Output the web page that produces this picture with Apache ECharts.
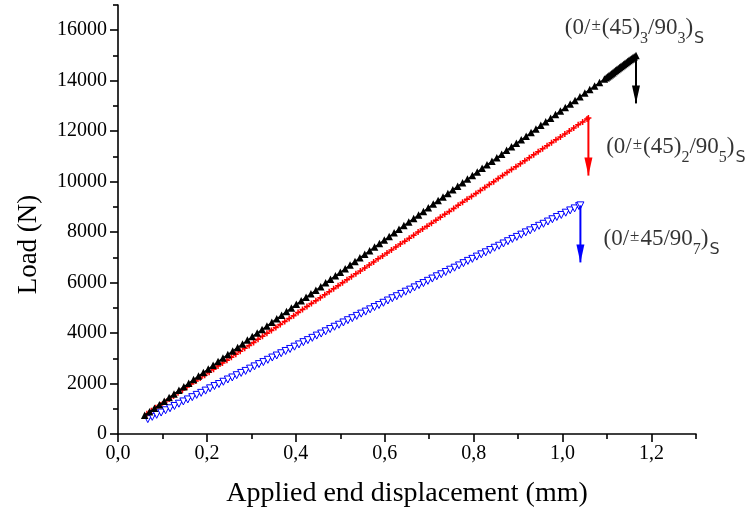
<!DOCTYPE html>
<html><head><meta charset="utf-8">
<script src="https://cdn.jsdelivr.net/npm/echarts@6/dist/echarts.min.js"></script>
<style>html,body{margin:0;padding:0;background:#fff}#c{width:751px;height:516px}</style>
</head><body><div id="c"></div>
<script>
// ---- data ----
var blackX = [0.060,0.071,0.082,0.093,0.104,0.115,0.126,0.137,0.148,0.159,0.170,0.181,0.192,0.203,0.214,0.225,0.236,0.247,0.258,0.269,0.280,0.291,0.302,0.313,0.324,0.335,0.346,0.357,0.368,0.379,0.390,0.401,0.412,0.423,0.434,0.445,0.456,0.467,0.478,0.489,0.500,0.511,0.522,0.533,0.544,0.555,0.566,0.577,0.588,0.599,0.610,0.621,0.632,0.643,0.654,0.665,0.676,0.687,0.698,0.709,0.720,0.731,0.742,0.753,0.764,0.775,0.786,0.797,0.808,0.819,0.830,0.841,0.852,0.863,0.874,0.885,0.896,0.907,0.918,0.929,0.940,0.951,0.962,0.973,0.984,0.995,1.006,1.017,1.028,1.039,1.050,1.061,1.072,1.083,1.094,1.098,1.101,1.104,1.107,1.110,1.113,1.116,1.119,1.122,1.125,1.128,1.131,1.134,1.137,1.140,1.143,1.146,1.149,1.152,1.155,1.158,1.161,1.165];
var blackY = [740,880,1020,1160,1300,1450,1590,1730,1870,2010,2160,2300,2440,2580,2720,2870,3010,3150,3290,3430,3570,3720,3860,4000,4140,4280,4430,4570,4710,4850,4990,5140,5280,5420,5560,5700,5840,5990,6130,6270,6410,6550,6700,6840,6980,7120,7260,7410,7550,7690,7830,7970,8110,8260,8400,8540,8680,8820,8970,9110,9250,9390,9530,9680,9820,9960,10100,10240,10380,10530,10670,10810,10950,11090,11240,11380,11520,11660,11800,11950,12090,12230,12370,12510,12660,12800,12940,13080,13220,13360,13510,13650,13790,13930,14070,14120,14160,14200,14240,14280,14320,14360,14400,14440,14480,14520,14560,14600,14640,14680,14720,14760,14800,14840,14870,14910,14950,15000];
var redX = [0.065,0.075,0.085,0.095,0.105,0.115,0.125,0.135,0.145,0.155,0.165,0.175,0.185,0.195,0.205,0.215,0.225,0.235,0.245,0.255,0.265,0.275,0.285,0.295,0.305,0.315,0.325,0.335,0.345,0.355,0.365,0.375,0.385,0.395,0.405,0.415,0.425,0.435,0.445,0.455,0.465,0.475,0.485,0.495,0.505,0.515,0.525,0.535,0.545,0.555,0.565,0.575,0.585,0.595,0.605,0.615,0.625,0.635,0.645,0.655,0.665,0.675,0.685,0.695,0.705,0.715,0.725,0.735,0.745,0.755,0.765,0.775,0.785,0.795,0.805,0.815,0.825,0.835,0.845,0.855,0.865,0.875,0.885,0.895,0.905,0.915,0.925,0.935,0.945,0.955,0.965,0.975,0.985,0.995,1.005,1.015,1.025,1.035,1.045,1.055,1.058];
var redY = [800,920,1040,1150,1270,1390,1510,1630,1740,1860,1980,2100,2220,2330,2450,2570,2690,2810,2920,3040,3160,3280,3400,3510,3630,3750,3870,3990,4100,4220,4340,4460,4580,4690,4810,4930,5050,5170,5280,5400,5520,5640,5760,5870,5990,6110,6230,6350,6460,6580,6700,6820,6940,7050,7170,7290,7410,7530,7640,7760,7880,8000,8120,8230,8350,8470,8590,8710,8820,8940,9060,9180,9300,9410,9530,9650,9770,9890,10000,10120,10240,10360,10480,10590,10710,10830,10950,11070,11180,11300,11420,11540,11660,11770,11890,12010,12130,12250,12360,12480,12520];
var blueX = [0.067,0.077,0.087,0.097,0.107,0.117,0.127,0.137,0.147,0.157,0.167,0.177,0.187,0.197,0.207,0.217,0.227,0.237,0.247,0.257,0.267,0.277,0.287,0.297,0.307,0.317,0.327,0.337,0.347,0.357,0.367,0.377,0.387,0.397,0.407,0.417,0.427,0.437,0.447,0.457,0.467,0.477,0.487,0.497,0.507,0.517,0.527,0.537,0.547,0.557,0.567,0.577,0.587,0.597,0.607,0.617,0.627,0.637,0.647,0.657,0.667,0.677,0.687,0.697,0.707,0.717,0.727,0.737,0.747,0.757,0.767,0.777,0.787,0.797,0.807,0.817,0.827,0.837,0.847,0.857,0.867,0.877,0.887,0.897,0.907,0.917,0.927,0.937,0.947,0.957,0.967,0.977,0.987,0.997,1.007,1.017,1.027,1.037,1.040];
var blueY = [590,680,760,850,940,1020,1110,1200,1290,1370,1460,1550,1630,1720,1810,1900,1980,2070,2160,2240,2330,2420,2500,2590,2680,2770,2850,2940,3030,3110,3200,3290,3370,3460,3550,3640,3720,3810,3900,3980,4070,4160,4250,4330,4420,4510,4590,4680,4770,4850,4940,5030,5110,5200,5290,5380,5460,5550,5640,5720,5810,5900,5980,6070,6160,6250,6330,6420,6510,6590,6680,6770,6860,6940,7030,7120,7200,7290,7380,7460,7550,7640,7730,7810,7900,7990,8070,8160,8250,8330,8420,8510,8600,8680,8770,8860,8940,9030,9060];
// failure drops (x, load before, load after)
var blackDrop = [1.165, 15000, 13100];
var redDrop = [1.058, 12520, 10240];
var blueDrop = [1.040, 9060, 6800];
// ticks
var xMajorTicks = [0,0.2,0.4,0.6,0.8,1.0,1.2];
var xMinorTicks = [0.1,0.3,0.5,0.7,0.9,1.1,1.3];
var yMajorTicks = [0,2000,4000,6000,8000,10000,12000,14000,16000];
var yMinorTicks = [1000,3000,5000,7000,9000,11000,13000,15000,17000];
// annotations
var labelBlack = {x:1.005, y:16620, text:'(0/{pm|±}(45){sub|3}/90{sub|3}){s|S}'};
var labelRed = {x:1.098, y:11880, text:'(0/{pm|±}(45){sub|2}/90{sub|5}){s|S}'};
var labelBlue = {x:1.092, y:8250, text:'(0/{pm|±}45/90{sub|7}){s|S}'};

var FONT = '"Liberation Serif", "DejaVu Serif", serif';
function zip(a,b){return a.map(function(v,i){return [v,b[i]];});}
function dropSeries(d,color){
  return {type:'line', data:[[d[0],d[1]],[d[0],d[2]]], lineStyle:{color:color,width:2},
    symbol:function(v,p){return p.dataIndex===1?'triangle':'none';},
    symbolRotate:180, symbolSize:[8,18], symbolOffset:[0,-9], itemStyle:{color:color},
    showSymbol:true, silent:true, z:5, animation:false};
}
function labelSeries(l){
  return {type:'scatter', data:[[l.x,l.y]], symbolSize:0, silent:true, animation:false,
    label:{show:true, position:'right', distance:0, formatter:l.text, color:'#000',
      fontFamily:FONT, fontSize:23, lineHeight:26, verticalAlign:'top',
      rich:{
        pm:{fontFamily:FONT, fontSize:17, lineHeight:26, verticalAlign:'top', padding:[2,1,0,1]},
        sub:{fontFamily:FONT, fontSize:16, lineHeight:16, verticalAlign:'top', padding:[16,0,0,0]},
        s:{fontFamily:'"DejaVu Sans", sans-serif', fontSize:16, lineHeight:16, verticalAlign:'top', padding:[16,0,0,1]}
      }}};
}
var chart = echarts.init(document.getElementById('c'), null, {renderer:'canvas'});
var axisLine = {show:true, lineStyle:{color:'#000', width:1.6}};
chart.setOption({
  animation:false,
  backgroundColor:'#fff',
  grid:{left:118, right:55, top:5, bottom:82},
  xAxis:[{
    type:'value', min:0, max:1.3, position:'bottom',
    axisLine:axisLine, splitLine:{show:false},
    axisTick:{show:true, customValues:xMajorTicks, length:8, lineStyle:{color:'#000',width:1.6}},
    axisLabel:{customValues:xMajorTicks, margin:10, color:'#000', fontFamily:FONT, fontSize:20,
      formatter:function(v){return v.toFixed(1).replace('.',',');}},
    name:'Applied end displacement (mm)', nameLocation:'middle', nameGap:46,
    nameTextStyle:{color:'#000', fontFamily:FONT, fontSize:28}
  },{
    type:'value', min:0, max:1.3, position:'bottom', gridIndex:0,
    axisLine:{show:false}, splitLine:{show:false},
    axisTick:{show:true, customValues:xMinorTicks, length:5, lineStyle:{color:'#000',width:1.6}},
    axisLabel:{show:false}
  }],
  yAxis:[{
    type:'value', min:0, max:17000,
    axisLine:axisLine, splitLine:{show:false},
    axisTick:{show:true, customValues:yMajorTicks, length:8, lineStyle:{color:'#000',width:1.6}},
    axisLabel:{customValues:yMajorTicks, margin:11, color:'#000', fontFamily:FONT, fontSize:20,
      formatter:function(v){return String(v);}},
    name:'Load (N)', nameLocation:'middle', nameGap:76, nameRotate:90,
    nameTextStyle:{color:'#000', fontFamily:FONT, fontSize:27, padding:[0,50,0,0]}
  },{
    type:'value', min:0, max:17000, position:'left', gridIndex:0,
    axisLine:{show:false}, splitLine:{show:false},
    axisTick:{show:true, customValues:yMinorTicks, length:5, lineStyle:{color:'#000',width:1.6}},
    axisLabel:{show:false}
  }],
  series:[
    {type:'line', name:'blue', data:zip(blueX,blueY), symbol:'triangle', symbolRotate:180, symbolSize:7,
      lineStyle:{color:'#0000ff', width:1.2}, itemStyle:{color:'#ffffff', borderColor:'#0000ff', borderWidth:1},
      showAllSymbol:true, z:2},
    {type:'line', name:'red', data:zip(redX,redY), symbol:'path://M3,0H5V3H8V5H5V8H3V5H0V3H3Z', symbolSize:6,
      lineStyle:{color:'#ff0000', width:1.2}, itemStyle:{color:'#ff0000', borderWidth:0},
      showAllSymbol:true, z:3},
    {type:'line', name:'black', data:zip(blackX,blackY), symbol:'triangle', symbolSize:7.5,
      lineStyle:{color:'#000', width:1.2}, itemStyle:{color:'#000', borderWidth:0},
      showAllSymbol:true, z:4},
    dropSeries(blackDrop,'#000'),
    dropSeries(redDrop,'#ff0000'),
    dropSeries(blueDrop,'#0000ff'),
    labelSeries(labelBlack), labelSeries(labelRed), labelSeries(labelBlue)
  ]
});
</script></body></html>
